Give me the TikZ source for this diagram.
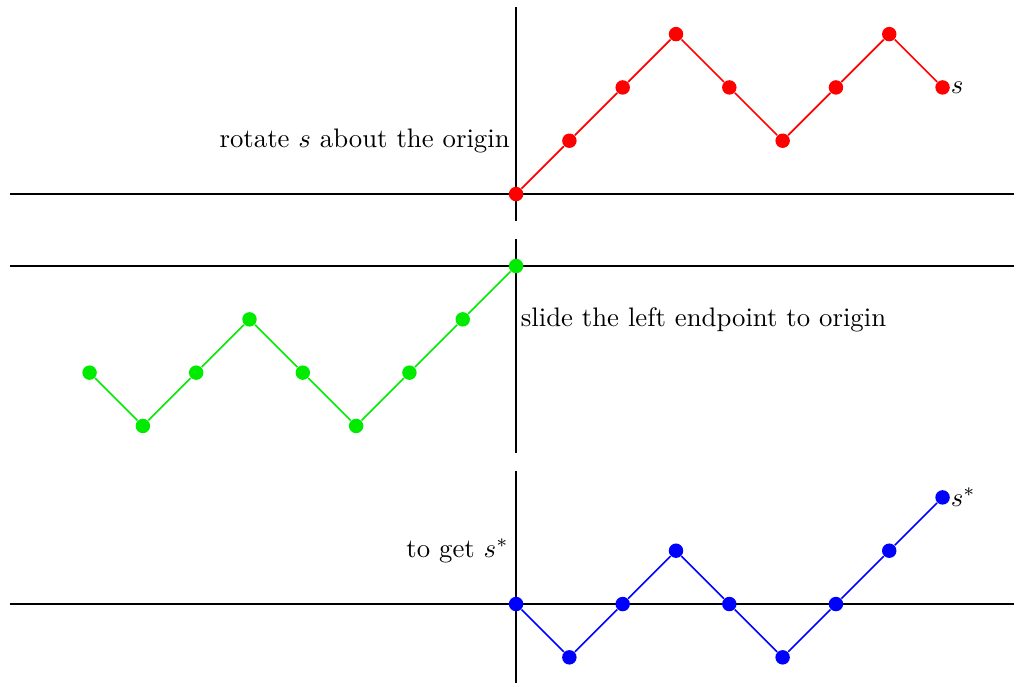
\documentclass[tikz,border=0pt]{standalone}
\usetikzlibrary{calc}
\begin{document}
\begin{tikzpicture}[x=0.7cm,y=0.7cm,
  axis/.style={line width=0.8pt},
  pt/.style={circle,fill=#1,inner sep=0pt,minimum size=5.4pt},
  seg/.style={line width=0.6pt,draw=#1}]
\useasboundingbox (-9.68,3.64) rectangle (9.34,-9.17);
\definecolor{myred}{RGB}{255,0,0}
\definecolor{mygreen}{RGB}{0,235,0}
\definecolor{myblue}{RGB}{0,0,255}
% axes
\coordinate (h1a) at (-9.5,0); \coordinate (h1b) at (9.5,0);
\coordinate (v1a) at (0,3.5); \coordinate (v1b) at (0,-0.5);
\draw[axis] (h1a) -- (h1b); \draw[axis] (v1a) -- (v1b);
\coordinate (h2a) at (-9.5,-1.35); \coordinate (h2b) at (9.5,-1.35);
\coordinate (v2a) at (0,-0.85); \coordinate (v2b) at (0,-4.85);
\draw[axis] (h2a) -- (h2b); \draw[axis] (v2a) -- (v2b);
\coordinate (h3a) at (-9.5,-7.69); \coordinate (h3b) at (9.5,-7.69);
\coordinate (v3a) at (0,-5.19); \coordinate (v3b) at (0,-9.2);
\draw[axis] (h3a) -- (h3b); \draw[axis] (v3a) -- (v3b);
% top (red)
\foreach \y [count=\i from 0] in {0,1,2,3,2,1,2,3,2}
  \node[pt=myred] (t\i) at (\i,\y) {};
\foreach \i [evaluate=\i as \j using int(\i+1)] in {0,...,7}
  \draw[seg=myred] (t\i) -- (t\j);
% middle (green)
\foreach \y [count=\i from 0] in {-2,-3,-2,-1,-2,-3,-2,-1,0}
  \node[pt=mygreen] (m\i) at (\i-8,\y-1.35) {};
\foreach \i [evaluate=\i as \j using int(\i+1)] in {0,...,7}
  \draw[seg=mygreen] (m\i) -- (m\j);
% bottom (blue)
\foreach \y [count=\i from 0] in {0,-1,0,1,0,-1,0,1,2}
  \node[pt=myblue] (b\i) at (\i,\y-7.69) {};
\foreach \i [evaluate=\i as \j using int(\i+1)] in {0,...,7}
  \draw[seg=myblue] (b\i) -- (b\j);
% labels
\node[anchor=east,inner sep=0pt] (l1) at (-0.11,1) {rotate $s$ about the origin};
\node[anchor=west,inner sep=0pt] (ls) at (t8.east) {$s$};
\node[anchor=west,inner sep=0pt] (l2) at (0.08,-2.35) {slide the left endpoint to origin};
\node[anchor=east,inner sep=0pt] (l3) at (-0.13,-6.69) {to get $s^*$};
\node[anchor=west,inner sep=0pt] (lss) at (b8.east) {$s^*$};
\end{tikzpicture}
\end{document}
